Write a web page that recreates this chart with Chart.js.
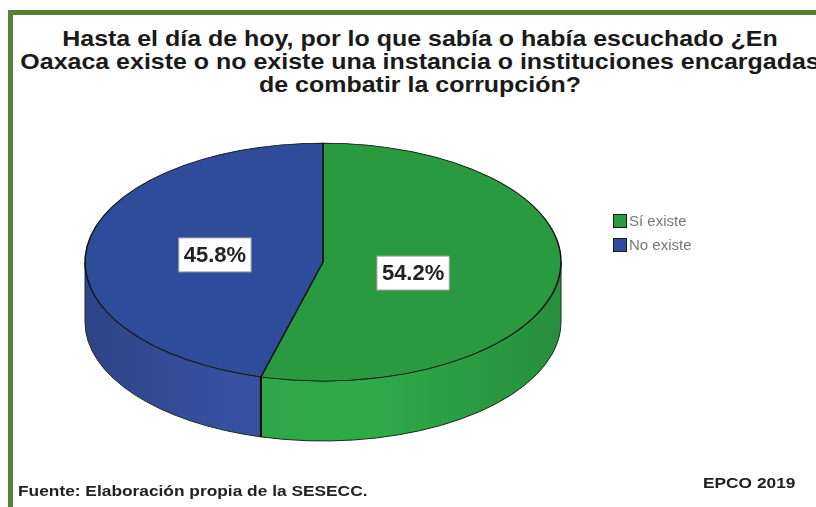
<!DOCTYPE html>
<html>
<head>
<meta charset="utf-8">
<script src="https://cdn.jsdelivr.net/npm/chart.js@4.4.1/dist/chart.umd.min.js"></script>
<style>
body { margin: 0; width: 816px; height: 507px; overflow: hidden; background: #fff; font-family: 'Liberation Sans', Arial, sans-serif; }
#frame { position: absolute; left: 8px; top: 10px; width: 900px; height: 600px; border-top: 5px solid #548235; border-left: 5px solid #548235; }
#box { position: absolute; left: 0; top: 0; width: 840px; height: 507px; }
#title { position: absolute; left: 0; top: 27px; width: 840px; text-align: center; font-weight: bold; font-size: 22px; line-height: 23px; color: #1a1a1a; white-space: nowrap; transform: scaleX(1.135); transform-origin: 420px 0; }
.foot { position: absolute; font-weight: bold; font-size: 15px; color: #222; white-space: nowrap; transform: scaleX(1.155); transform-origin: 0 0; }
</style>
</head>
<body>
<div id="frame"></div>
<div id="title">Hasta el día de hoy, por lo que sabía o había escuchado ¿En<br>Oaxaca existe o no existe una instancia o instituciones encargadas<br>de combatir la corrupción?</div>
<div id="box"><canvas id="myChart"></canvas></div>
<div class="foot" style="left:18px; top:482px;">Fuente: Elaboración propia de la SESECC.</div>
<div class="foot" style="left:703px; top:474px;">EPCO 2019</div>
<script>
// datos de la grafica
var categories = ['Sí existe', 'No existe'];
var percents = [54.2, 45.8];

var topColors = ['#2a9a40', '#2f4c9b'];
var sideColors = ['#2fae4a', '#3a55a9'];

// pastel en 3d: pared frontal, cara aplanada, etiquetas y leyenda
var pie3d = {
  id: 'pie3d',
  beforeDatasetsDraw: function(chart, args, opts) {
    var ctx = chart.ctx;
    var arcs = chart.getDatasetMeta(0).data;
    var cx = arcs[0].x, cy = arcs[0].y;
    var rx = arcs[0].outerRadius, ry = rx * opts.tilt, d = opts.depth;
    ctx.save();
    arcs.forEach(function(arc, i) {
      [0, 2 * Math.PI].forEach(function(off) {
        var s = Math.max(arc.startAngle, off), e = Math.min(arc.endAngle, off + Math.PI);
        if (e <= s) return;
        ctx.beginPath();
        ctx.ellipse(cx, cy, rx, ry, 0, s, e, false);
        ctx.ellipse(cx, cy + d, rx, ry, 0, e, s, true);
        ctx.closePath();
        ctx.fillStyle = sideColors[i];
        ctx.fill();
        var g = ctx.createLinearGradient(cx - rx, 0, cx + rx, 0);
        g.addColorStop(0, 'rgba(0,0,0,0.2)');
        g.addColorStop(0.3, 'rgba(0,0,0,0.05)');
        g.addColorStop(0.6, 'rgba(0,0,0,0.02)');
        g.addColorStop(1, 'rgba(0,0,0,0.18)');
        ctx.fillStyle = g;
        ctx.fill();
        ctx.strokeStyle = '#1d2a22';
        ctx.lineWidth = 1;
        ctx.stroke();
      });
      // linea divisoria en la pared
      [arc.startAngle, arc.endAngle].forEach(function(a) {
        var m = ((a % (2 * Math.PI)) + 2 * Math.PI) % (2 * Math.PI);
        if (m > 0.01 && m < Math.PI - 0.01) {
          var px = cx + Math.cos(m) * rx, py = cy + Math.sin(m) * ry;
          ctx.beginPath();
          ctx.moveTo(px, py);
          ctx.lineTo(px, py + d);
          ctx.strokeStyle = '#0a0a0a';
          ctx.lineWidth = 2;
          ctx.stroke();
        }
      });
    });
    ctx.restore();
  },
  beforeDatasetDraw: function(chart, args, opts) {
    var arc = chart.getDatasetMeta(0).data[0];
    var ctx = chart.ctx;
    ctx.save();
    ctx.translate(arc.x, arc.y);
    ctx.scale(1, opts.tilt);
    ctx.translate(-arc.x, -arc.y);
  },
  afterDatasetDraw: function(chart) {
    chart.ctx.restore();
  },
  afterDatasetsDraw: function(chart, args, opts) {
    var ctx = chart.ctx;
    var arcs = chart.getDatasetMeta(0).data;
    var rx = arcs[0].outerRadius, ry = rx * opts.tilt;
    ctx.save();
    ctx.font = 'bold 22px "Liberation Sans", Arial, sans-serif';
    ctx.textAlign = 'center';
    ctx.textBaseline = 'middle';
    arcs.forEach(function(arc, i) {
      var mid = (arc.startAngle + arc.endAngle) / 2;
      var x = arc.x + Math.cos(mid) * rx * 0.42 - 9;
      var y = arc.y + Math.sin(mid) * ry * 0.58 + 2;
      var txt = percents[i].toFixed(1) + '%';
      var w = ctx.measureText(txt).width + 10;
      ctx.fillStyle = '#fff';
      ctx.fillRect(x - w / 2, y - 17, w, 34);
      ctx.strokeStyle = '#9a9a9a';
      ctx.lineWidth = 1;
      ctx.strokeRect(x - w / 2, y - 17, w, 34);
      ctx.fillStyle = '#222';
      ctx.fillText(txt, x, y + 1);
    });
    // leyenda
    ctx.font = '15px "Liberation Sans", Arial, sans-serif';
    ctx.textAlign = 'left';
    categories.forEach(function(c, i) {
      var ly = 214 + i * 24;
      ctx.fillStyle = topColors[i];
      ctx.fillRect(613, ly, 14, 14);
      ctx.strokeStyle = '#1a1a1a';
      ctx.lineWidth = 1;
      ctx.strokeRect(613.5, ly + 0.5, 13, 13);
      ctx.fillStyle = '#777';
      ctx.fillText(c, 629, ly + 8);
    });
    ctx.restore();
  }
};

var ctx = document.getElementById('myChart').getContext('2d');
var myChart = new Chart(ctx, {
  type: 'pie',
  data: {
    labels: categories,
    datasets: [{
      data: percents,
      backgroundColor: topColors,
      borderColor: '#111',
      borderWidth: 1.5,
      radius: 238,
      clip: false
    }]
  },
  options: {
    responsive: true,
    maintainAspectRatio: false,
    animation: false,
    events: [],
    layout: { padding: { left: 0, right: 194, top: 17, bottom: 0 } },
    plugins: {
      legend: { display: false },
      tooltip: { enabled: false },
      title: { display: false },
      pie3d: { tilt: 0.5, depth: 60 }
    }
  },
  plugins: [pie3d]
});
</script>
</body>
</html>
